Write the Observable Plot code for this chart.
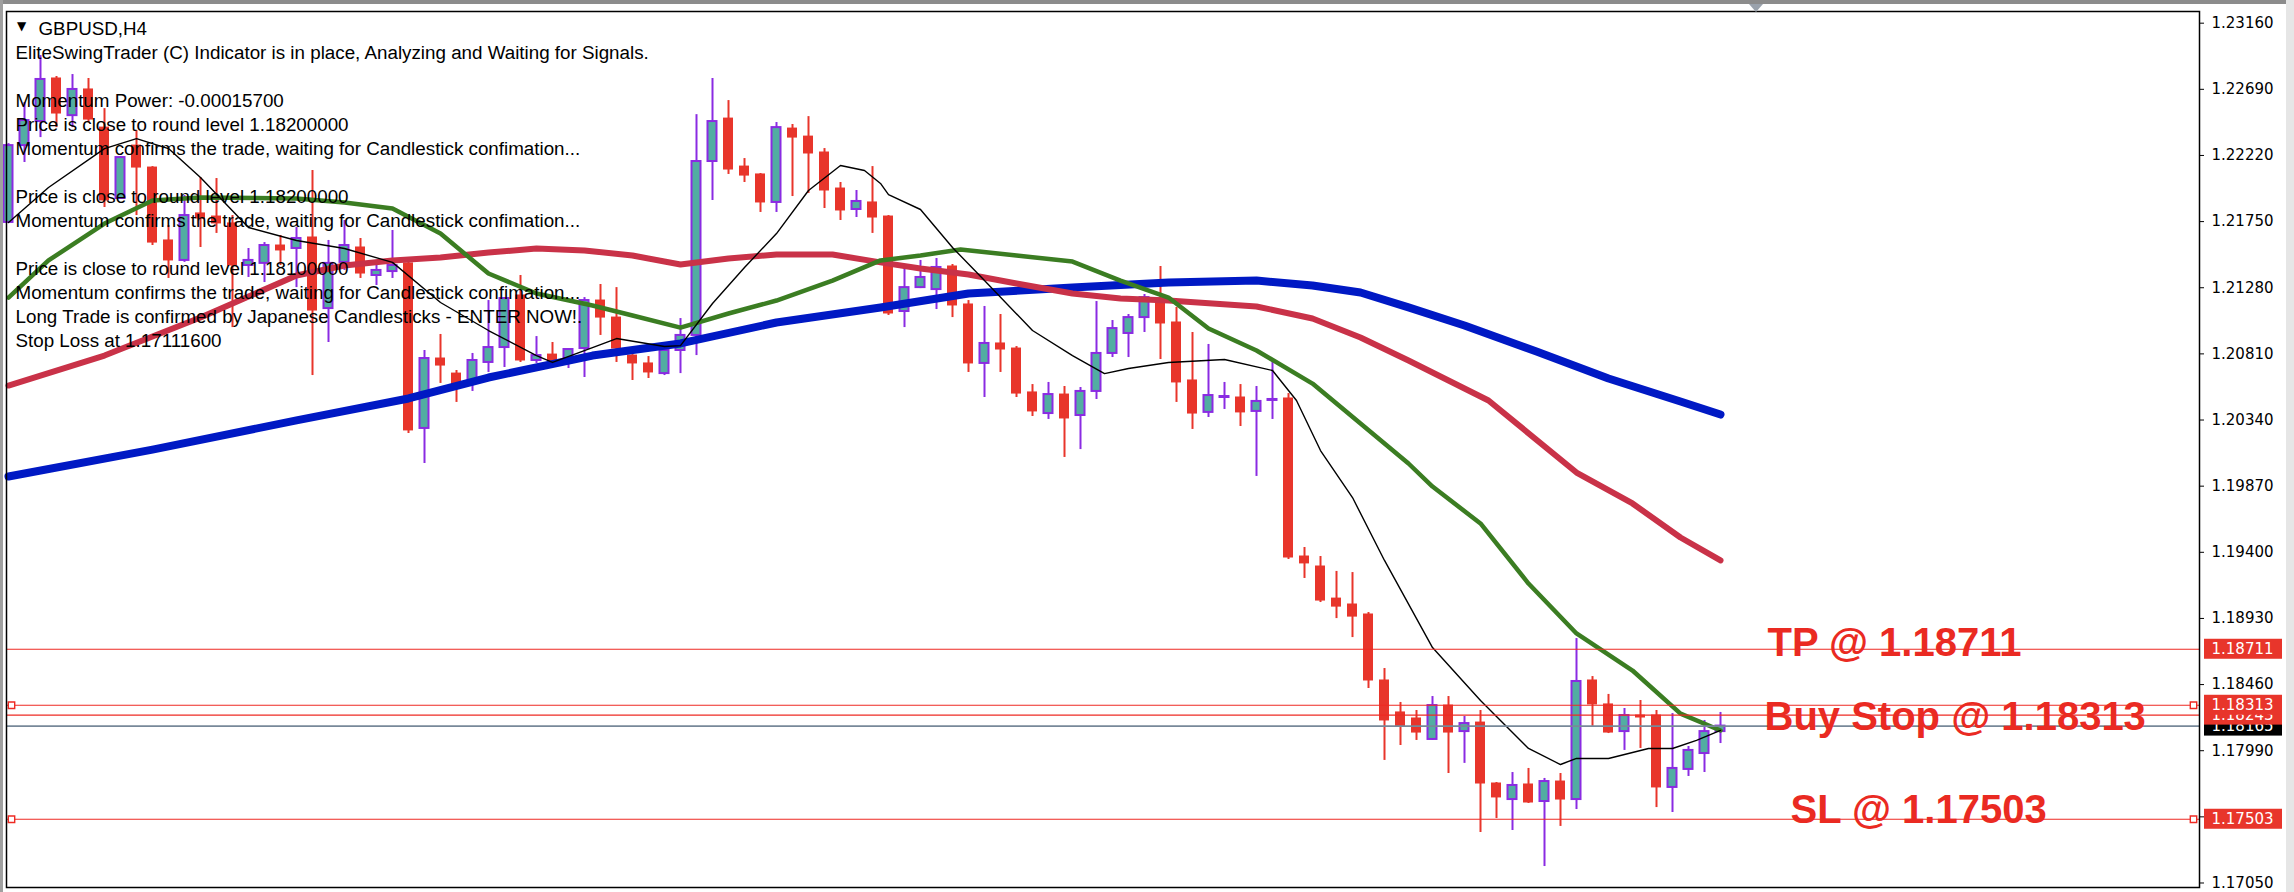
<!DOCTYPE html>
<html><head><meta charset="utf-8">
<script src="https://cdn.jsdelivr.net/npm/d3@7"></script>
<script src="https://cdn.jsdelivr.net/npm/@observablehq/plot@0.6"></script>
<style>
html,body{margin:0;padding:0;background:#fff;}
#wrap{position:relative;width:2294px;height:892px;overflow:hidden;background:#fff;}
#chart{position:absolute;left:0;top:0;}
#topbar{position:absolute;left:0;top:0;width:2294px;height:4px;background:#8c8c8c;}
#leftbar{position:absolute;left:0;top:0;width:3px;height:892px;background:#a0a0a0;}
#rightbar{position:absolute;right:0;top:0;width:8px;height:892px;background:#e6e6e6;}
#shift{position:absolute;left:1749px;top:4px;width:0;height:0;border-left:7px solid transparent;border-right:7px solid transparent;border-top:8px solid #9aa2ac;}
</style></head>
<body><div id="wrap"><div id="chart"></div><div id="topbar"></div><div id="leftbar"></div><div id="rightbar"></div><div id="shift"></div></div>
<script>
// ---- candle data (GBPUSD H4) ----
const opens = [1.21744,1.22290,1.22461,1.22767,1.22503,1.22689,1.22418,1.21914,1.22290,1.22134,
1.21616,1.21474,1.21808,1.21786,1.21737,1.21438,1.21453,1.21580,1.21559,1.21637,
1.21132,1.21460,1.21566,1.21367,1.21395,1.21453,1.20280,1.20777,1.20670,1.20607,
1.20749,1.20855,1.21225,1.20763,1.20805,1.20777,1.20848,1.21189,1.21068,1.20798,
1.20742,1.20670,1.20834,1.20941,1.22177,1.22482,1.22141,1.22085,1.21886,1.22411,
1.22354,1.22241,1.21985,1.21836,1.21886,1.21786,1.21111,1.21281,1.21267,1.21431,
1.21161,1.20742,1.20884,1.20848,1.20536,1.20386,1.20521,1.20372,1.20543,1.20813,
1.20955,1.21068,1.21203,1.21033,1.20621,1.20394,1.20500,1.20500,1.20401,1.20479,
1.20493,1.19370,1.19299,1.19071,1.19029,1.18958,1.18489,1.18262,1.18219,1.18070,
1.18311,1.18126,1.18190,1.17757,1.17643,1.17750,1.17629,1.17771,1.17643,1.18489,
1.18319,1.18126,1.18240,1.18240,1.17729,1.17857,1.17970,1.18126];
const highs = [1.22304,1.22596,1.22930,1.22781,1.22795,1.22767,1.22553,1.22212,1.22397,1.22141,
1.21722,1.21935,1.22063,1.22056,1.21793,1.21559,1.21601,1.21651,1.21708,1.22113,
1.21616,1.21758,1.21630,1.21453,1.21687,1.21460,1.20834,1.20948,1.20692,1.20813,
1.21189,1.21210,1.21367,1.20933,1.20891,1.20845,1.21210,1.21303,1.21281,1.20805,
1.20791,1.20884,1.21061,1.22510,1.22767,1.22610,1.22198,1.22092,1.22454,1.22440,
1.22496,1.22269,1.22028,1.21971,1.22141,1.21793,1.21417,1.21474,1.21488,1.21445,
1.21189,1.21147,1.21090,1.20862,1.20592,1.20607,1.20578,1.20571,1.21182,1.21047,
1.21090,1.21232,1.21431,1.21140,1.20962,1.20877,1.20607,1.20592,1.20578,1.20770,
1.20528,1.19434,1.19370,1.19264,1.19256,1.18972,1.18574,1.18333,1.18276,1.18375,
1.18375,1.18233,1.18276,1.17764,1.17835,1.17864,1.17793,1.17828,1.18787,1.18517,
1.18390,1.18290,1.18347,1.18276,1.18254,1.18020,1.18205,1.18262];
const lows = [1.21737,1.22170,1.22347,1.22418,1.22418,1.22454,1.21850,1.21907,1.21793,1.21580,
1.21346,1.21460,1.21566,1.21666,1.20997,1.21353,1.21317,1.21438,1.21281,1.20656,
1.20891,1.21403,1.21346,1.21296,1.21346,1.20244,1.20031,1.20600,1.20465,1.20543,
1.20678,1.20713,1.20749,1.20742,1.20742,1.20706,1.20642,1.20941,1.20749,1.20621,
1.20635,1.20656,1.20670,1.20798,1.21900,1.22085,1.22028,1.21815,1.21815,1.21928,
1.21950,1.21843,1.21758,1.21779,1.21666,1.21083,1.20997,1.21274,1.21125,1.21068,
1.20678,1.20500,1.20678,1.20500,1.20365,1.20344,1.20074,1.20130,1.20486,1.20784,
1.20784,1.20962,1.20770,1.20465,1.20273,1.20358,1.20415,1.20294,1.19939,1.20344,
1.19349,1.19214,1.19043,1.18929,1.18794,1.18432,1.17921,1.18027,1.18063,1.18063,
1.17828,1.17900,1.17409,1.17508,1.17423,1.17615,1.17167,1.17452,1.17572,1.18163,
1.18112,1.17992,1.18006,1.17586,1.17551,1.17807,1.17835,1.18041];
const closes = [1.22290,1.22468,1.22760,1.22518,1.22689,1.22475,1.21900,1.22205,1.22134,1.21601,
1.21474,1.21793,1.21772,1.21737,1.21438,1.21474,1.21580,1.21545,1.21630,1.21118,
1.21453,1.21580,1.21381,1.21403,1.21438,1.20266,1.20777,1.20727,1.20585,1.20763,
1.20855,1.21203,1.20763,1.20798,1.20749,1.20841,1.21189,1.21068,1.20848,1.20742,
1.20678,1.20834,1.20941,1.22177,1.22461,1.22120,1.22077,1.21886,1.22418,1.22347,
1.22234,1.21971,1.21829,1.21893,1.21779,1.21097,1.21281,1.21353,1.21424,1.21154,
1.20742,1.20884,1.20841,1.20528,1.20401,1.20521,1.20351,1.20543,1.20813,1.20990,
1.21068,1.21210,1.21026,1.20607,1.20386,1.20514,1.20507,1.20394,1.20472,1.20486,
1.19363,1.19321,1.19057,1.19014,1.18943,1.18489,1.18205,1.18163,1.18119,1.18311,
1.18119,1.18183,1.17757,1.17658,1.17743,1.17622,1.17771,1.17643,1.18482,1.18319,
1.18119,1.18240,1.18226,1.17729,1.17864,1.17992,1.18126,1.18165];

// ---- moving averages (bar index, price) ----
const blackBars = [0,2.5,6,8,10,12,15,18,21,24,27,30,33,34,36.5,38,41,42,44,46,48,50,52,53.5,54.5,55,57,59,61,64,66.5,68.5,70,72.5,76,79,80.5,82,84,86,89,92,95,97,98,100,102.5,104,105.5,107];
const blackVals = [1.21744,1.21992,1.22269,1.22340,1.22269,1.22063,1.21708,1.21616,1.21559,1.21460,
1.21175,1.20976,1.20798,1.20749,1.20855,1.20919,1.20862,1.20869,1.21168,1.21424,
1.21665,1.21971,1.22149,1.22113,1.22021,1.21942,1.21836,1.21566,1.21331,1.20976,
1.20798,1.20670,1.20706,1.20749,1.20770,1.20692,1.20479,1.20123,1.19789,1.19342,
1.18723,1.18347,1.18006,1.17892,1.17935,1.17935,1.18006,1.18006,1.18063,1.18134];
const greenBars = [0,2.5,6,9,12,18,21,24,27,30,33,36.5,39,42,45,48,51.5,54.5,57,59.5,63,66.5,69.5,72.5,75,78,81.5,84.5,87.5,89,92,95,98,101.5,104.5,107];
const greenVals = [1.21210,1.21474,1.21736,1.21900,1.21921,1.21914,1.21886,1.21843,1.21665,1.21381,
1.21239,1.21154,1.21083,1.20997,1.21097,1.21189,1.21331,1.21474,1.21509,1.21552,
1.21509,1.21466,1.21331,1.21210,1.20990,1.20834,1.20599,1.20315,1.20031,1.19867,
1.19605,1.19178,1.18823,1.18560,1.18254,1.18134];
const redBars = [0,6,12,18,21,24,27,30,33,36,39,42,45,48,51.5,54.5,57,60,63,66.5,69.5,72.5,78,81.5,84.5,87.5,92.5,98,101.5,104.5,107];
const redVals = [1.20585,1.20798,1.21068,1.21367,1.21438,1.21474,1.21495,1.21530,1.21559,1.21545,
1.21509,1.21445,1.21488,1.21516,1.21516,1.21460,1.21417,1.21374,1.21310,1.21239,
1.21203,1.21189,1.21147,1.21061,1.20926,1.20763,1.20479,1.19967,1.19747,1.19505,1.19342];
const blueBars = [0,9,18,25,30,36.5,42,48,54.5,60,66.5,72.5,78,81.5,84.5,87.5,91,95.5,100,104.5,107];
const blueVals = [1.19939,1.20130,1.20337,1.20493,1.20642,1.20798,1.20884,1.21033,1.21140,1.21239,
1.21281,1.21317,1.21331,1.21296,1.21246,1.21140,1.21012,1.20827,1.20635,1.20472,1.20379];

// ---- levels & axis ----
const takeProfit = 1.18711, buyStop = 1.18313, pendingLine = 1.18243, bid = 1.18165, stopLoss = 1.17503;
const yTicks = [1.23160,1.22690,1.22220,1.21750,1.21280,1.20810,1.20340,1.19870,1.19400,1.18930,1.18460,1.17990,1.17520,1.17050];
const infoLines = [
 "EliteSwingTrader (C) Indicator is in place, Analyzing and Waiting for Signals.",
 "",
 "Momentum Power: -0.00015700",
 "Price is close to round level 1.18200000",
 "Momentum confirms the trade, waiting for Candlestick confimation...",
 "",
 "Price is close to round level 1.18200000",
 "Momentum confirms the trade, waiting for Candlestick confimation...",
 "",
 "Price is close to round level 1.18100000",
 "Momentum confirms the trade, waiting for Candlestick confimation...",
 "Long Trade is confirmed by Japanese Candlesticks - ENTER NOW!.",
 "Stop Loss at 1.17111600"
];

// ---- build ----
const candles = opens.map((o, i) => ({i, o, h: highs[i], l: lows[i], c: closes[i]}));
const bulls = candles.filter(d => d.c >= d.o), bears = candles.filter(d => d.c < d.o);
const ma = (bars, vals) => bars.map((b, k) => ({i: b, v: vals[k]}));

const RED = "#e8352b", TEAL = "#52ada2", PURPLE = "#8a2be2", LRED = "#ee2a23";
const AXF = "DejaVu Sans, sans-serif", TXF = "Liberation Sans, Arial, sans-serif";
const NS = "http://www.w3.org/2000/svg";

function priceTag(value, bg) {
  return Plot.text([value], {
    y: d => d, text: d => d.toFixed(5), frameAnchor: "right", textAnchor: "start", dx: 12,
    fill: "white", fontFamily: AXF, fontSize: 15,
    render(index, scales, values, dims, context, next) {
      const g = next(index, scales, values, dims, context);
      const doc = context.document;
      const wrap = doc.createElementNS(NS, "g");
      for (const k of index) {
        const r = doc.createElementNS(NS, "rect");
        r.setAttribute("x", dims.width - dims.marginRight + 5);
        r.setAttribute("y", values.y[k] - 10);
        r.setAttribute("width", 78);
        r.setAttribute("height", 20);
        r.setAttribute("fill", bg);
        wrap.appendChild(r);
      }
      wrap.appendChild(g);
      return wrap;
    }
  });
}

const marks = [
  // candles
  Plot.ruleX(bears, {x: "i", y1: "l", y2: "h", stroke: RED, strokeWidth: 2}),
  Plot.rect(bears, {x1: d => d.i - 0.5, x2: d => d.i + 0.5, y1: "o", y2: "c", insetLeft: 3, insetRight: 3, insetTop: -0.5, insetBottom: -0.5, fill: RED}),
  Plot.ruleX(bulls, {x: "i", y1: "l", y2: "h", stroke: PURPLE, strokeWidth: 2}),
  Plot.rect(bulls, {x1: d => d.i - 0.5, x2: d => d.i + 0.5, y1: "o", y2: "c", insetLeft: 3.5, insetRight: 3.5, fill: TEAL, stroke: PURPLE, strokeWidth: 2}),
  // moving averages
  Plot.line(ma(blueBars, blueVals), {x: "i", y: "v", stroke: "#0019c4", strokeWidth: 8}),
  Plot.line(ma(redBars, redVals), {x: "i", y: "v", stroke: "#c93248", strokeWidth: 6}),
  Plot.line(ma(greenBars, greenVals), {x: "i", y: "v", stroke: "#3b7d22", strokeWidth: 4.5}),
  Plot.line(ma(blackBars, blackVals), {x: "i", y: "v", stroke: "#000", strokeWidth: 1.4}),
  // order levels
  Plot.ruleY([takeProfit, buyStop, pendingLine, stopLoss], {stroke: LRED, strokeWidth: 1.2}),
  Plot.ruleY([bid], {stroke: "#778899", strokeWidth: 1.6}),
  Plot.dot([buyStop, stopLoss], {y: d => d, frameAnchor: "left", dx: 5, symbol: "square", r: 3.6, fill: "white", stroke: LRED, strokeWidth: 1.4}),
  Plot.dot([buyStop, stopLoss], {y: d => d, frameAnchor: "right", dx: -6, symbol: "square", r: 3.6, fill: "white", stroke: LRED, strokeWidth: 1.4}),
  // big labels
  Plot.text([takeProfit], {y: d => d, text: d => `TP @ ${d.toFixed(5)}`, frameAnchor: "right", textAnchor: "start", dx: -432, dy: -6, fontSize: 40, fontWeight: "bold", fontFamily: TXF, fill: "#ea2a22"}),
  Plot.text([buyStop], {y: d => d, text: d => `Buy Stop @ ${d.toFixed(5)}`, frameAnchor: "right", textAnchor: "start", dx: -435, dy: 12, fontSize: 40, fontWeight: "bold", fontFamily: TXF, fill: "#ea2a22"}),
  Plot.text([stopLoss], {y: d => d, text: d => `SL @ ${d.toFixed(5)}`, frameAnchor: "right", textAnchor: "start", dx: -409, dy: -9, fontSize: 40, fontWeight: "bold", fontFamily: TXF, fill: "#ea2a22"}),
  // info text
  Plot.text(["▼"], {frameAnchor: "top-left", textAnchor: "middle", dx: 15, dy: 10, fontSize: 12, fontFamily: AXF, fill: "#000"}),
  Plot.text(["GBPUSD,H4"], {frameAnchor: "top-left", textAnchor: "start", dx: 32, dy: 10, fontSize: 18.8, fontFamily: TXF, fill: "#000"}),
  ...infoLines.map((t, k) => Plot.text([t], {frameAnchor: "top-left", textAnchor: "start", dx: 9, dy: 34 + 24 * k, fontSize: 18.8, fontFamily: TXF, fill: "#000"})),
  // axis + frame
  Plot.frame({stroke: "#000", strokeWidth: 1.5}),
  Plot.axisY({anchor: "right", ticks: yTicks, tickFormat: d => d.toFixed(5), tickSize: 4, tickPadding: 8, label: null, fontSize: 15, fontFamily: AXF, color: "#000"}),
  // price tags on the axis
  priceTag(bid, "#000"),
  priceTag(pendingLine, "#e8352b"),
  priceTag(buyStop, "#e8352b"),
  priceTag(takeProfit, "#e8352b"),
  priceTag(stopLoss, "#e8352b")
];

const chart = Plot.plot({
  width: 2294, height: 892,
  marginLeft: 6, marginRight: 95, marginTop: 11, marginBottom: 5,
  x: {domain: [-0.125, 136.9375], axis: null},
  y: {domain: [1.17018, 1.23243], axis: null},
  style: {background: "white", fontFamily: AXF, fontSize: "15px", color: "black", overflow: "visible"},
  marks
});
document.getElementById("chart").appendChild(chart);
</script>
</body></html>
